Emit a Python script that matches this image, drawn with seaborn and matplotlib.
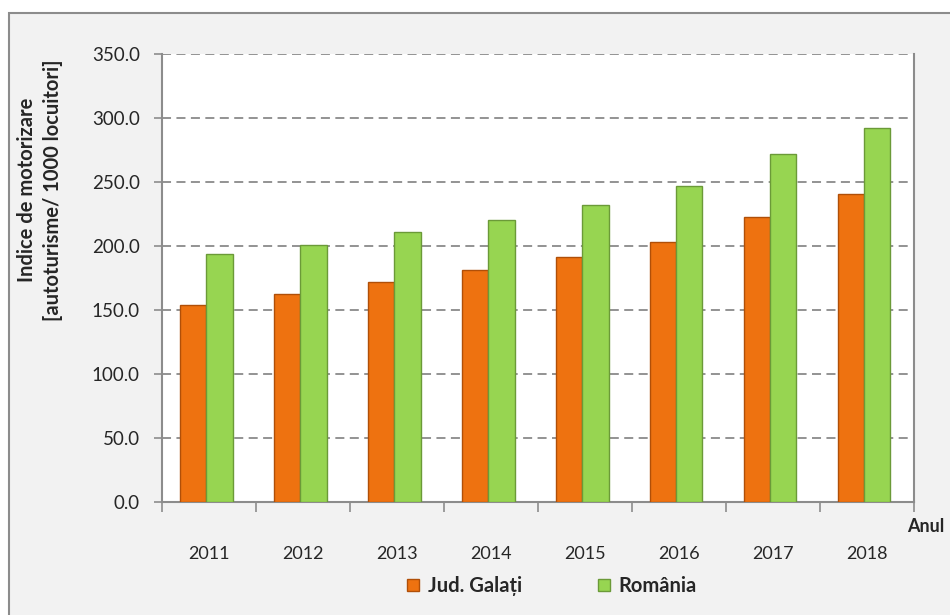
import pandas as pd
import matplotlib
matplotlib.use("Agg")
import matplotlib.pyplot as plt
import matplotlib.patches as mpatches
from matplotlib.ticker import FixedLocator, FormatStrFormatter
import seaborn as sns

# -----------------------------
# DATA
# -----------------------------
years = ["2011", "2012", "2013", "2014", "2015", "2016", "2017", "2018"]
galati = [154.0, 162.3, 172.1, 181.3, 191.7, 203.4, 222.9, 240.4]
romania = [194.0, 201.0, 211.0, 220.3, 231.8, 246.9, 271.6, 292.0]
series_names = ["Jud. Galați", "România"]

df = pd.DataFrame({
    "an": years * 2,
    "valoare": galati + romania,
    "serie": [series_names[0]] * len(years) + [series_names[1]] * len(years),
})

sns.set_theme(style="white")
plt.rcParams["font.family"] = ["Lato", "DejaVu Sans"]

colors = {"Jud. Galați": "#ee7210", "România": "#97d551"}
edges = {"Jud. Galați": "#b04f08", "România": "#6b9a38"}

fig = plt.figure(figsize=(9.5, 6.15), dpi=100)
fig.patch.set_facecolor("white")

# outer chart frame
frame = mpatches.Rectangle((9 / 950, -0.02), 1.02, 1 - 13 / 615 + 0.02,
                           transform=fig.transFigure, facecolor="#f2f2f2",
                           edgecolor="#8c8c8c", linewidth=1.5, zorder=-10)
fig.patches.append(frame)

ax = fig.add_axes([162 / 950, 1 - 502 / 615, (914 - 162) / 950, (502 - 54) / 615])
ax.set_facecolor("white")

sns.barplot(data=df, x="an", y="valoare", hue="serie", palette=colors,
            width=0.56, gap=0, ax=ax, legend=False, saturation=1)

for container, name in zip(ax.containers, series_names):
    for bar in container:
        bar.set_edgecolor(edges[name])
        bar.set_linewidth(1.0)
        bar.set_zorder(3)
        bar.set_x(bar.get_x() - 0.03)

ax.set_ylim(0, 350)
ax.set_xlim(-0.5, len(years) - 0.5)
ax.yaxis.set_major_locator(FixedLocator([0, 50, 100, 150, 200, 250, 300, 350]))
ax.yaxis.set_major_formatter(FormatStrFormatter("%.1f"))
ax.xaxis.set_minor_locator(FixedLocator([i - 0.5 for i in range(len(years) + 1)]))

for y in [50, 100, 150, 200, 250, 300, 350]:
    ax.axhline(y, color="#8a8a8a", linestyle=(0, (5, 3)), linewidth=1.3, zorder=1)

for side in ["left", "bottom", "right"]:
    ax.spines[side].set_visible(True)
    ax.spines[side].set_color("#8c8c8c")
    ax.spines[side].set_linewidth(1.5)
ax.spines["top"].set_visible(False)

ax.tick_params(axis="y", which="major", direction="out", length=6, width=1.2,
               color="#8c8c8c", pad=10, labelsize=13.5, left=True)
ax.tick_params(axis="x", which="major", length=0, pad=32, labelsize=13)
ax.tick_params(axis="x", which="minor", direction="out", length=7, width=1.2,
               color="#8c8c8c", bottom=True)

ax.set_xlabel("")
ax.set_ylabel("")

fig.text(40 / 950, 1 - 190 / 615, "Indice de motorizare\n[autoturisme/ 1000 locuitori]",
         rotation=90, ha="center", va="center", fontsize=14.5, fontweight="bold",
         linespacing=1.35)
fig.text(907 / 950, 1 - 527 / 615, "Anul", ha="left", va="center",
         fontsize=13, fontweight="bold")

handles = [mpatches.Patch(facecolor=colors[n], edgecolor=edges[n], label=n)
           for n in series_names]
fig.legend(handles=handles, loc="center", bbox_to_anchor=(552 / 950, 1 - 586 / 615),
           ncol=2, frameon=False, handlelength=0.6, handleheight=0.6,
           handletextpad=0.4, columnspacing=3.8,
           prop={"weight": "bold", "size": 14.5})

fig.savefig("out.png", dpi=100)
